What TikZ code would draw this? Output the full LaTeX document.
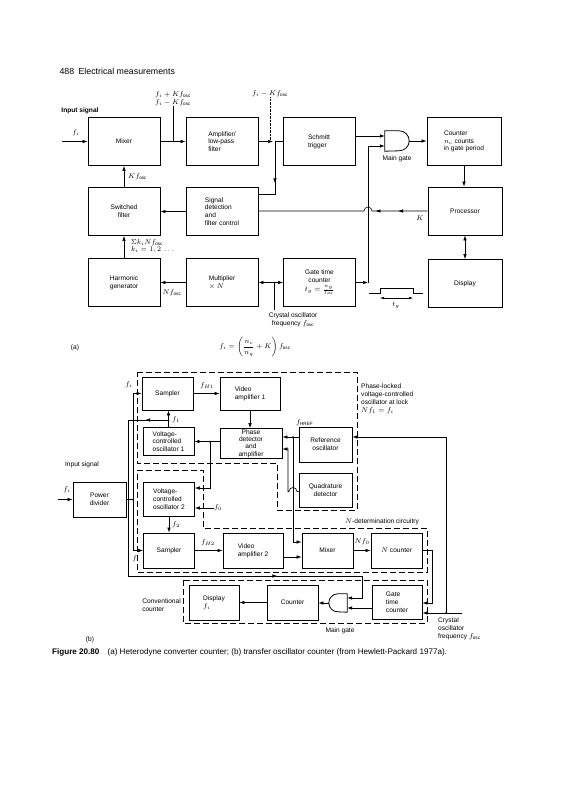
\documentclass[tikz,border=0pt]{standalone}
\usepackage{fontspec}
\setmainfont{Liberation Sans}
\usepackage{amsmath}
\usetikzlibrary{arrows.meta,positioning,calc,decorations.markings}

\begin{document}
\begin{tikzpicture}[x=1pt,y=1pt,font=\fontsize{6.6}{7.8}\selectfont,
  blk/.style={draw, line width=0.8pt, align=center, minimum width=72pt, minimum height=48pt, inner sep=1pt},
  sblk/.style={blk, minimum width=51pt, minimum height=34pt},
  ar/.style={-{Latex[length=5pt,width=3.5pt]}, line width=0.6pt},
  ln/.style={line width=0.6pt},
  thn/.style={line width=0.4pt},
  dsh/.style={line width=0.6pt, dash pattern=on 6pt off 3pt},
  lbl/.style={inner sep=0pt},
  dot/.style={circle, fill, inner sep=0pt, minimum size=2pt},
  midarr/.style={postaction={decorate, decoration={markings,
      mark=at position #1 with {\arrow{Latex[length=5pt,width=3.5pt]}}}}}]
\fill[white] (0,0) rectangle (563,-800);
\useasboundingbox (0,0) rectangle (563,-800);
\node[anchor=west, font=\fontsize{8.8}{10}\selectfont] (hdr) at (56,-71) {488\enspace Electrical measurements};

% (a) heterodyne converter counter
\node[blk] (mix) at (124,-141.5) {Mixer};
\node[blk, align=left] (amp) at (222,-141.5) {Amplifier/\\low-pass\\filter};
\node[blk, align=left] (schm) at (319,-141.5) {Schmitt\\trigger};
\node[blk, align=left, minimum width=74pt] (cnt) at (464,-141.5) {Counter\\$n_c$ counts\\in gate period};
\node[blk] (swf) at (124,-211.5) {Switched\\filter};
\node[blk, align=left] (sig) at (222,-211.5) {Signal\\detection\\and\\filter control};
\node[blk, minimum width=74pt] (proc) at (465,-211) {Processor};
\node[blk] (harm) at (124,-282.5) {Harmonic\\generator};
\node[blk, align=left] (mult) at (222,-282.5) {Multiplier\\$\times\ N$};
\node[blk] (gtc) at (319.5,-282.5) {Gate time\\counter\\[1pt]$t_g = \frac{n_g}{f_\mathrm{osc}}$};
\node[blk, minimum width=74pt] (disp) at (465,-283.5) {Display};
\node[minimum width=24pt, minimum height=20pt, inner sep=0pt] (gate) at (397,-141) {};
\draw[line width=0.8pt] (gate.north west) -- ([xshift=-10pt]gate.north east)
  arc[start angle=90, end angle=-90, radius=10pt] -- (gate.south west) -- cycle;
\coordinate (gin1) at ([yshift=5pt]gate.west);
\coordinate (gin2) at ([yshift=-5pt]gate.west);
\node[lbl, below=4pt of gate] (mg) {Main gate};

\node[lbl] (inlbl) at (80,-111) {\textbf{Input signal}};
\coordinate (inA) at (62,-141.5);
\draw[ar] (inA) -- (mix.west);
\node[lbl] at (76,-133) {$f_i$};
\draw[ar] (mix) -- (amp);
\node[lbl, align=center] (mixout) at (173,-99) {$f_i + Kf_\mathrm{osc}$\\$f_i - Kf_\mathrm{osc}$};
\draw[thn] (mixout.south) -- (mixout.south |- mix.east);
\coordinate (jA) at (275,-141.5);
\draw[ar, shorten >=2pt] (amp.east) -- (jA);
\draw[ln] (jA) -- (schm.west);
\node[lbl] (ampout) at (270,-94) {$f_i - Kf_\mathrm{osc}$};
\draw[thn, densely dotted] (ampout.south) -- (ampout.south |- jA);
\draw[ln, midarr=0.6] (jA) |- ([yshift=-7.5pt]sig.north east);
\draw[ar] (schm.east |- gin1) -- (gin1);
\draw[ar] (gate.east) -- (cnt.west |- gate.east);
\coordinate (cG) at (368,-282.5);
\draw[ar] (gtc.east) -- (cG);
\draw[ar] (cG) |- (gin2);
\draw[ar] (cnt.south) -- (cnt.south |- proc.north);
\draw[{Latex[length=5pt,width=3.5pt]}-{Latex[length=5pt,width=3.5pt]}, ln] (proc.south) -- (proc.south |- disp.north);
\draw[ln, midarr=0.17, midarr=0.3] (proc.west) -- (372,-211)
  arc[start angle=0, end angle=180, radius=4pt] -- (sig.east |- proc.west);
\node[lbl] at (420,-218) {$K$};
\draw[ar] (sig.west) -- (swf.east);
\draw[ar] (swf.north) -- (mix.south);
\node[lbl, anchor=west] at (128,-177) {$Kf_\mathrm{osc}$};
\draw[ar] (harm.north) -- (swf.south);
\node[lbl, anchor=north west, align=left] at (131,-239) {$\Sigma k_i N f_\mathrm{osc}$\\$k_i = 1, 2\ \ldots$};
\draw[ar] (mult.west) -- (harm.east);
\node[lbl] at (172,-293) {$Nf_\mathrm{osc}$};
\coordinate (jX) at (274,-282.5);
\coordinate (xtal) at (274,-310);
\draw[thn] (xtal) -- (jX);
\draw[ar] (jX) -- (mult.east);
\draw[ar] (jX) -- (gtc.west);
\node[lbl, align=center] at (293,-320) {Crystal oscillator\\frequency $f_\mathrm{osc}$};
\draw[ln] (369,-293) -- (380,-293) -- (380,-288) -- (413,-288) -- (413,-293) -- (423,-293);
\draw[{Latex[length=4pt,width=2.5pt]}-{Latex[length=4pt,width=2.5pt]}, thn] (380,-298) -- (413,-298);
\node[lbl] at (396,-305) {$t_g$};
\node[lbl] at (255,-347) {$f_i = \left(\dfrac{n_c}{n_g} + K\right) f_\mathrm{osc}$};
\node[lbl] at (75,-348) {(a)};

% (b) transfer oscillator counter
\node[sblk, minimum height=33pt] (smp1) at (167.5,-393.5) {Sampler};
\node[sblk, minimum width=60pt, minimum height=33pt, align=left] (vid1) at (250,-393.5) {Video\\amplifier 1};
\node[sblk, minimum height=28pt, align=left] (vco1) at (168.5,-441.5) {Voltage-\\controlled\\oscillator 1};
\node[sblk, minimum width=62pt, minimum height=30pt, font=\fontsize{6.6}{7.3}\selectfont] (phd) at (251,-443.5) {Phase\\detector\\and\\amplifier};
\node[sblk, minimum width=53pt, minimum height=35pt] (refo) at (325.5,-444.5) {Reference\\oscillator};
\node[sblk, minimum width=53pt] (quad) at (325.5,-490) {Quadrature\\detector};
\node[sblk, minimum width=53pt, minimum height=35pt] (pdiv) at (99.5,-499.5) {Power\\divider};
\node[sblk, align=left] (vco2) at (169,-499) {Voltage-\\controlled\\oscillator 2};
\node[sblk, minimum height=35pt] (smp2) at (169,-550.5) {Sampler};
\node[sblk, minimum width=60pt, minimum height=35pt, align=left] (vid2) at (253,-550.5) {Video\\amplifier 2};
\node[sblk, minimum height=35pt] (mixb) at (327.5,-550.5) {Mixer};
\node[sblk, minimum height=35pt] (ncnt) at (396.5,-550.5) {$N$ counter};
\node[sblk, minimum width=50pt, minimum height=35pt, align=left] (dispb) at (214,-602.5) {Display\\$f_i$};
\node[sblk, minimum height=35pt] (cntb) at (292.5,-602.5) {Counter};
\node[sblk, minimum width=50pt, align=left] (gtcb) at (397,-602) {Gate\\time\\counter};
\node[minimum width=18pt, minimum height=18pt, inner sep=0pt] (gate2) at (338,-603) {};
\draw[line width=0.8pt] (gate2.north east) -- ([xshift=9pt]gate2.north west)
  arc[start angle=90, end angle=270, radius=9pt] -- (gate2.south east) -- cycle;
\coordinate (gbin1) at ([yshift=5pt]gate2.east);
\coordinate (gbin2) at ([yshift=-5pt]gate2.east);

\draw[dsh] (137,-372) -- (357,-372) -- (357,-510) -- (277,-510) -- (277,-463) -- (137,-463) -- cycle;
\draw[dsh] (137,-470) -- (203,-470) -- (203,-528) -- (427,-528) -- (427,-572) -- (137,-572) -- cycle;
\draw[dsh] (183,-580) rectangle (427,-623);

\node[lbl] at (82,-465) {Input signal};
\coordinate (inB) at (58,-499.5);
\draw[ar] (inB) -- (pdiv.west);
\node[lbl] at (67,-490) {$f_i$};
\coordinate (jB) at (133,-499.5);
\draw[ln] (pdiv.east) -- (jB);
\node[dot] at (jB) {};
\draw[ar] (jB) |- (smp1.west);
\draw[ar] (jB) |- (smp2.west);
\node[lbl] at (129,-385) {$f_i$};
\node[lbl] at (136,-559) {$f_i$};
\draw[ar] (smp1) -- (vid1);
\node[lbl] at (207,-386) {$f_{H1}$};
\draw[ar] (vid1.south) -- (vid1.south |- phd.north);
\draw[ar] (phd.west |- vco1.east) -- (vco1.east);
\coordinate (jV) at (210,-441.5);
\node[dot] at (jV) {};
\draw[ar] (jV) |- ([yshift=11pt]vco2.east);
\coordinate (jF) at (168.5,-420);
\node[dot] at (jF) {};
\draw[ar] (vco1.north) -- (vco1.north |- smp1.south);
\node[lbl] at (176,-420) {$f_1$};
\draw[ln, midarr=0.05, midarr=0.74, -{Latex[length=5pt,width=3.5pt]}] (jF) -- (128,-420) -- (128,-576) -- (362,-576) |- (gbin1);
\draw[ar] (vco2.south) -- (smp2.north);
\node[lbl] at (176,-525) {$f_2$};
\node[lbl, anchor=west] (f0) at (214,-508) {$f_0$};
\draw[ar] (f0.west) -- (vco2.east |- f0.west);
\draw[ar] (smp2) -- (vid2);
\node[lbl] at (208,-543) {$f_{H2}$};
\draw[ar] ([yshift=-6.5pt]vid2.east) -- ([yshift=-6.5pt]mixb.west);
\draw[ar] (mixb) -- (ncnt);
\node[lbl] at (362,-542) {$Nf_0$};
\node[lbl, anchor=south west] at (296,-426) {$f_\mathrm{HREF}$};
\draw[ar] ([yshift=7.5pt]refo.west) -- ([yshift=7.5pt]refo.west -| phd.east);
\coordinate (jR) at (293,-437);
\node[dot] at (jR) {};
\draw[ar] (jR) |- ([yshift=8.5pt]mixb.west);
\draw[ar] ([yshift=-1.5pt]quad.west) -- (297,-491.5)
  arc[start angle=0, end angle=180, radius=4pt] -- (288,-491.5) -- (288,-449) -- (phd.east |- 0,-449);
\coordinate (cN) at (432,-550.5);
\draw[ar] (ncnt.east) -- (cN) |- ([yshift=-1pt]gtcb.east);
\draw[ar] ([yshift=-6pt]gtcb.west) -- (gbin2);
\draw[ar] (gate2.west) -- (cntb.east |- gate2.west);
\draw[ar] (cntb.west) -- (dispb.east);
\coordinate (xt2) at (462,-613);
\coordinate (jC) at (446,-613);
\node[dot] at (jC) {};
\draw[ar] (xt2) -- ([yshift=-11pt]gtcb.east);
\draw[ar] (jC) |- ([yshift=7.5pt]refo.east);
\node[lbl, anchor=north west, align=left] at (438,-618) {Crystal\\oscillator\\frequency $f_\mathrm{osc}$};
\node[lbl, anchor=north west, align=left] at (361,-384) {Phase-locked\\voltage-controlled\\oscillator at lock\\$Nf_1 = f_i$};
\node[lbl] at (382,-522) {$N$-determination circuitry};
\node[lbl, align=left, anchor=east] at (181,-605) {Conventional\\counter};
\node[lbl] at (340,-631) {Main gate};
\node[lbl] at (90,-640) {(b)};
\node[lbl, anchor=west, font=\fontsize{8.1}{9.5}\selectfont] (cap) at (52,-652)
  {\textbf{Figure 20.80}\quad (a) Heterodyne converter counter; (b) transfer oscillator counter (from Hewlett-Packard 1977a).};
\end{tikzpicture}
\end{document}
